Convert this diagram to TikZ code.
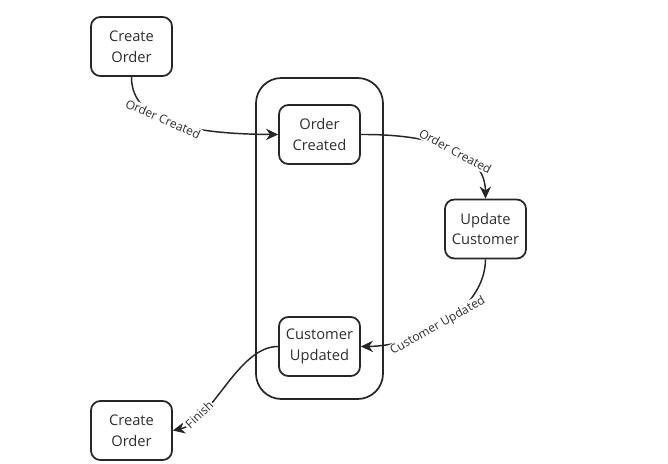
\documentclass[tikz,border=0pt]{standalone}
\usepackage{fontspec}
\setmainfont{Open Sans}
\usepackage{xcolor}
\usepackage{tikz}
\usetikzlibrary{arrows.meta,positioning,calc}
\definecolor{flowink}{HTML}{262626}
\definecolor{flowtext}{HTML}{2E2E2E}

\begin{document}
\begin{tikzpicture}[
  x=0.75pt, y=-0.75pt,
  box/.style={draw=flowink, line width=1.3pt, rounded corners=7pt, align=center, minimum width=60.75pt, minimum height=44.25pt, inner sep=0pt, text=flowtext, font=\fontsize{11}{15.5}\selectfont},
  group/.style={draw=flowink, line width=1.3pt, rounded corners=19pt, minimum width=95.25pt, minimum height=240.75pt, inner sep=0pt},
  arrow/.style={-{Stealth[length=3.2mm, width=3mm]}, line width=1.1pt, flowink},
  flowlabel/.style={sloped, fill=white, inner sep=1pt, text=flowtext, font=\fontsize{9}{11}\selectfont}
]
\useasboundingbox (0,0) rectangle (668,464);
\node[group] (context) at (319.5,238.5) {};
\node[box] (createtop) at (131.5,46.5) {Create\\Order};
\node[box] (ordercreated) at (319.5,134.5) {Order\\Created};
\node[box] (updatecust) at (485.5,229) {Update\\Customer};
\node[box] (custupdated) at (319.5,346.5) {Customer\\Updated};
\node[box] (createbot) at (131.5,430.5) {Create\\Order};
\draw[arrow] (createtop.south) .. controls (131,125) and (200,134) .. node[flowlabel, pos=0.42] {Order Created} (ordercreated.west);
\draw[arrow] (ordercreated.east) .. controls (430,134) and (485,150) .. node[flowlabel, pos=0.55] {Order Created} (updatecust.north);
\draw[arrow] (updatecust.south) .. controls (485,310) and (420,346) .. node[flowlabel, pos=0.55] {Customer Updated} (custupdated.east);
\draw[arrow] (custupdated.west) .. controls (238,346) and (212,422) .. node[flowlabel, pos=0.76] {Finish} (createbot.east);
\end{tikzpicture}
\end{document}
